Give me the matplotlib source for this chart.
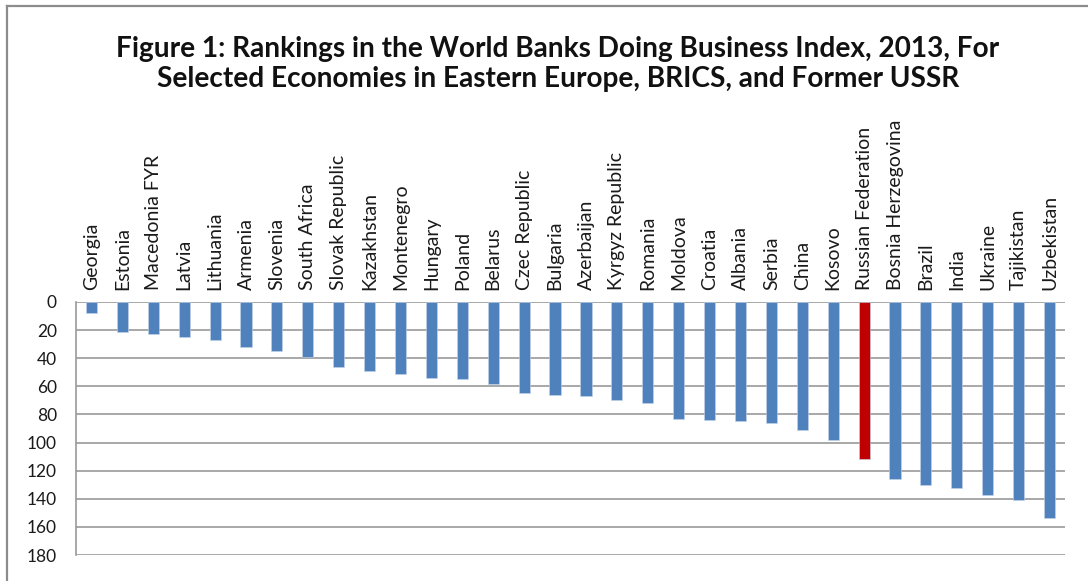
import matplotlib
matplotlib.use("Agg")
import matplotlib.pyplot as plt
from matplotlib.lines import Line2D

plt.rcParams["font.family"] = ["Lato", "DejaVu Sans"]

countries = [
    "Georgia", "Estonia", "Macedonia FYR", "Latvia", "Lithuania", "Armenia",
    "Slovenia", "South Africa", "Slovak Republic", "Kazakhstan", "Montenegro",
    "Hungary", "Poland", "Belarus", "Czec Republic", "Bulgaria", "Azerbaijan",
    "Kyrgyz Republic", "Romania", "Moldova", "Croatia", "Albania", "Serbia",
    "China", "Kosovo", "Russian Federation", "Bosnia Herzegovina", "Brazil",
    "India", "Ukraine", "Tajikistan", "Uzbekistan",
]
ranks = [
    8, 21, 23, 25, 27, 32, 35, 39, 46, 49, 51, 54, 55, 58, 65, 66, 67,
    70, 72, 83, 84, 85, 86, 91, 98, 112, 126, 130, 132, 137, 141, 154,
]
highlight = "Russian Federation"
y_ticks = list(range(0, 181, 20))

title = ("Figure 1: Rankings in the World Banks Doing Business Index, 2013, For\n"
         "Selected Economies in Eastern Europe, BRICS, and Former USSR")

W, H = 1088, 581
fig = plt.figure(figsize=(W / 100, H / 100), dpi=100)
ax = fig.add_axes([76 / W, 1 - 555 / H, (1065 - 76) / W, (555 - 302) / H])

grid_color = "#9a9a9a"
colors = ["#C00000" if c == highlight else "#4F81BD" for c in countries]
x = list(range(len(countries)))
ax.bar(x, ranks, width=0.36, color=colors, edgecolor="#c6d6ea", linewidth=0.4, zorder=3)

ax.set_xlim(-0.5, len(countries) - 0.5)
ax.set_ylim(180, 0)
ax.set_yticks(y_ticks)
ax.yaxis.grid(True, color=grid_color, linewidth=1.2, zorder=0)
ax.tick_params(axis="y", length=0, pad=13.7, labelsize=12.5, labelcolor="#1a1a1a")

ax.xaxis.tick_top()
ax.set_xticks(x)
ax.set_xticklabels(countries, rotation=90, fontsize=14, color="#1a1a1a")
ax.tick_params(axis="x", length=0, pad=9)

for side in ["top", "right", "bottom"]:
    ax.spines[side].set_visible(False)
ax.spines["left"].set_color(grid_color)
ax.spines["left"].set_linewidth(1.2)

fig.text(558 / W, 1 - 64 / H, title, ha="center", va="center", fontsize=20.2,
         fontweight="bold", color="#111111", linespacing=1.2)

# chart area frame (top and left edges visible)
frame_color = "#8c8c8c"
fig.add_artist(Line2D([7 / W, 1], [1 - 6 / H, 1 - 6 / H], color=frame_color, linewidth=1.6))
fig.add_artist(Line2D([7 / W, 7 / W], [0, 1 - 6 / H], color=frame_color, linewidth=1.6))

fig.savefig("out.png", dpi=100)
